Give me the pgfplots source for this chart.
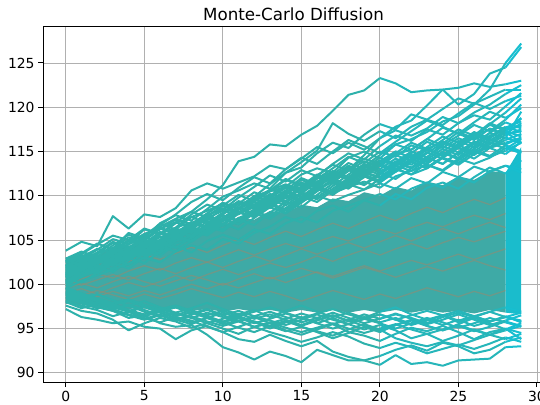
\documentclass[border=0pt]{standalone}
\usepackage{pgfplots}
\usepackage{pgfplotstable}
\pgfplotsset{compat=1.18}
\usepackage{fontspec}
\setmainfont{DejaVu Sans}
\definecolor{coreC}{RGB}{62,170,166}
\definecolor{cyanF}{RGB}{26,188,204}
\definecolor{lineA}{RGB}{46,177,171}
\definecolor{lineB}{RGB}{38,182,186}
\definecolor{lineC}{RGB}{23,190,207}
\definecolor{texC}{RGB}{150,138,112}
\definecolor{gridgray}{RGB}{176,176,176}

\pgfplotstableread{
name c0 c1 c2 c3 c4 c5 c6 c7 c8 c9 c10 c11 c12 c13 c14 c15 c16 c17 c18 c19 c20 c21 c22 c23 c24 c25 c26 c27 c28 c29
p1 101.2 102.0 102.8 103.5 104.9 105.6 106.5 107.4 108.2 109.6 111.2 113.9 114.4 115.8 115.6 116.9 117.9 119.6 121.4 121.9 123.3 122.7 121.7 121.9 122.0 122.2 122.7 122.3 122.6 123.0
p2 100.5 101.0 102.2 101.8 103.0 103.5 104.8 105.2 106.4 107.5 107.2 108.9 109.8 110.5 111.0 112.4 113.1 112.6 114.3 115.0 114.2 115.8 116.4 117.2 118.4 119.0 120.3 122.0 125.0 127.2
p3 99.8 100.9 101.5 102.8 102.2 103.6 104.1 105.4 106.0 105.6 107.3 108.1 107.6 109.2 110.4 111.0 112.3 113.5 112.9 114.6 116.5 117.8 118.5 120.2 122.0 120.3 121.5 123.8 124.5 126.8
p4 103.8 104.8 104.3 107.7 106.3 107.9 107.6 108.6 110.6 111.4 110.8 111.5 112.2 113.4 113.0 114.2 115.5 114.8 116.0 115.2 116.5 117.4 116.8 117.6 118.9 118.2 119.4 120.3 121.5 122.5
p5 102.6 103.5 104.6 104.0 105.8 105.2 106.9 107.8 107.2 108.5 109.9 110.6 111.4 110.8 112.6 113.2 114.8 116.0 115.4 116.9 118.1 117.5 119.2 118.6 119.8 121.0 120.4 121.2 122.0 122.0
p6 101.9 102.8 103.9 105.1 104.6 106.2 105.7 106.4 107.9 109.0 108.4 109.8 111.0 112.3 111.6 112.9 112.2 113.6 114.8 114.1 115.6 116.8 116.2 117.5 116.9 118.2 119.1 118.6 120.1 121.6
p7 100.9 101.6 102.4 103.9 103.3 104.2 105.8 105.1 106.6 107.2 108.6 108.0 109.5 110.7 110.2 111.8 111.1 112.4 113.7 113.0 112.4 113.8 115.0 114.3 115.9 117.2 116.5 118.1 119.4 121.0
p8 102.2 101.6 102.9 103.5 104.9 104.4 105.0 106.3 105.8 107.1 106.6 108.0 108.7 110.0 109.4 110.9 112.1 111.5 112.8 113.9 113.3 114.7 115.2 116.4 115.7 116.8 118.0 117.3 118.6 120.3
p9 101.0 102.1 101.5 102.6 103.2 104.5 104.0 105.3 106.1 105.5 106.8 108.2 107.6 108.9 110.1 109.6 110.8 110.2 111.6 112.7 112.1 113.4 112.8 114.1 115.3 114.6 115.9 117.1 116.5 119.5
p10 100.2 101.3 102.0 101.4 102.7 103.9 103.2 104.6 105.2 106.5 106.0 107.3 106.7 108.1 109.3 108.7 110.1 111.4 110.8 112.2 111.5 112.9 114.2 113.6 114.9 114.3 115.6 116.8 117.4 118.8
p11 102.9 103.7 103.1 104.4 105.6 104.9 106.3 107.0 106.4 107.8 108.5 109.3 108.7 110.0 111.2 110.5 111.9 113.1 114.4 113.7 115.0 114.4 115.7 115.1 116.3 117.5 116.8 118.0 117.4 118.0
p12 101.7 102.5 103.2 102.7 103.9 105.0 104.4 105.7 107.0 106.3 107.5 108.6 110.0 109.4 110.6 112.0 111.3 112.6 112.0 113.3 114.6 115.8 115.2 116.4 117.7 117.0 116.3 117.6 116.9 117.3
p13 100.6 100.2 101.3 102.4 101.8 103.1 104.3 103.7 104.9 106.2 107.4 106.8 108.0 107.4 108.6 109.9 109.3 110.6 111.8 111.2 112.4 113.7 113.1 114.3 113.6 114.9 116.1 115.4 116.0 116.5
p14 102.4 103.0 102.4 103.6 104.1 103.5 104.8 105.5 106.9 106.4 107.8 107.2 108.5 109.8 109.2 110.4 109.8 111.1 112.4 113.6 113.0 114.2 113.5 114.8 116.0 115.4 116.6 115.9 117.2 116.0
p15 100.3 101.5 102.7 102.1 103.4 104.6 105.9 105.3 106.7 108.0 109.2 108.5 109.9 111.3 112.6 113.8 115.1 118.2 117.0 116.2 117.3 116.5 117.8 118.6 118.0 119.3 120.5 119.8 120.7 121.3
p16 101.3 102.6 103.4 104.7 104.1 105.4 106.7 107.9 109.3 110.2 109.5 110.9 112.1 111.4 113.0 114.3 113.6 115.0 116.3 115.6 114.8 116.1 117.3 118.5 117.8 117.0 118.3 119.5 118.8 119.9
p17 102.0 103.2 102.6 104.0 104.9 105.5 106.8 106.2 107.6 108.3 109.1 108.5 109.9 110.6 111.3 110.7 112.0 112.7 112.1 113.4 112.8 113.5 114.6 114.0 114.7 115.4 114.8 115.5 116.3 117.0
p18 101.4 102.1 103.0 103.6 103.1 104.4 105.0 106.4 107.0 106.5 108.0 109.4 108.9 109.5 110.1 111.4 110.9 111.5 112.9 112.3 113.6 113.0 112.4 113.1 114.3 113.7 115.0 114.4 115.1 116.0
p19 100.0 100.8 101.7 102.3 103.5 104.0 103.5 104.9 105.5 106.8 106.2 107.5 108.2 107.7 109.0 109.6 110.8 110.3 111.0 111.6 110.9 112.2 112.8 113.5 112.9 114.2 113.6 114.3 115.4 114.8
p20 102.8 102.2 103.5 104.1 105.3 104.7 105.3 106.0 105.4 106.7 107.3 106.8 108.1 108.7 108.1 109.4 110.0 109.4 110.1 110.7 111.4 110.8 112.0 111.4 112.7 112.1 113.3 112.7 113.4 113.0
p21 99.5 100.4 101.0 101.7 102.3 103.0 102.5 103.7 104.4 103.9 105.1 104.6 105.8 106.5 107.6 107.0 108.3 108.9 108.2 109.5 110.2 109.6 110.8 111.5 110.9 112.1 111.5 112.8 113.4 112.6
p22 101.0 101.7 101.2 102.4 103.0 102.4 103.7 104.3 103.6 104.9 105.6 105.0 106.2 105.7 106.9 107.6 107.0 108.3 108.9 109.5 108.9 110.2 109.6 110.9 111.5 110.8 112.1 113.2 112.5 114.0
p23 98.5 98.0 97.4 97.0 96.2 96.5 95.6 95.2 95.4 94.3 92.9 92.3 91.5 92.4 91.9 91.2 92.6 92.0 91.4 91.4 90.9 92.0 91.0 91.2 90.8 91.4 91.5 91.6 92.9 93.0
p24 97.2 96.3 96.0 95.6 95.8 95.2 95.0 93.8 94.8 95.3 94.6 93.8 93.5 94.3 93.6 93.0 93.6 92.4 91.8 91.4 91.9 92.6 93.1 92.5 93.4 93.0 92.2 92.6 93.5 94.0
p25 97.6 97.0 96.7 96.0 94.8 95.6 96.2 95.8 95.1 95.6 95.0 94.4 95.2 95.6 94.8 94.3 94.9 95.5 94.6 94.2 93.6 94.4 95.1 94.7 95.3 94.6 93.8 94.6 95.0 93.8
p26 98.2 97.5 97.1 96.4 96.9 96.1 96.6 96.0 95.5 96.2 95.7 95.1 94.6 95.3 95.9 95.2 94.6 93.9 94.5 95.2 94.6 95.4 96.0 95.3 94.8 95.5 96.2 95.6 94.9 95.6
p27 98.8 98.1 97.3 97.8 97.0 96.4 97.0 96.5 97.1 96.4 95.8 96.4 95.8 95.0 95.7 96.3 95.6 96.2 95.5 94.9 95.4 94.8 93.9 94.4 93.6 94.2 94.9 94.3 95.0 94.5
p28 99.1 98.5 97.8 97.2 97.6 96.9 96.3 96.8 96.2 95.6 96.1 96.7 96.1 96.6 96.0 95.4 96.0 96.5 95.8 96.3 95.7 96.2 95.5 96.0 95.4 96.0 95.3 95.8 96.4 95.7
p29 99.5 98.7 98.2 97.6 97.0 97.5 97.0 97.4 96.7 97.2 96.5 95.9 96.3 95.6 96.1 96.7 96.2 95.5 96.0 96.6 96.1 96.6 96.2 95.6 96.3 96.8 96.3 96.9 97.4 96.9
p30 98.0 97.3 97.8 97.2 96.6 96.2 95.7 96.3 95.9 95.2 94.6 95.2 95.8 95.3 94.7 95.2 94.7 94.2 94.9 95.5 94.9 93.9 93.4 93.0 93.5 93.1 93.7 94.3 93.8 94.4
p31 99.3 98.8 98.3 97.7 98.1 97.5 97.0 96.4 96.8 96.2 95.5 95.9 95.2 94.6 94.1 93.5 94.0 94.6 94.1 93.3 92.8 93.4 92.9 92.2 92.7 93.2 92.7 93.3 94.0 93.5
p32 99.0 98.4 98.9 98.2 97.6 98.1 97.4 96.8 97.3 97.9 97.2 96.6 97.1 96.3 97.0 97.6 96.9 96.3 96.8 96.2 96.9 97.4 96.6 96.0 96.5 95.7 96.4 95.8 96.3 95.9
p33 102.5 103.1 104.0 103.6 104.5 105.3 104.8 105.9 106.8 107.5 108.3 107.9 109.0 110.2 109.7 110.8 111.6 112.5 112.0 113.1 114.0 113.4 114.5 115.3 116.1 115.6 116.8 117.5 117.0 118.2
p34 101.8 102.9 102.3 103.4 104.6 105.7 106.3 105.6 106.9 107.8 107.1 108.4 109.6 109.0 110.3 111.5 110.9 112.2 113.4 112.7 113.9 115.0 114.3 115.2 114.5 115.8 116.9 116.2 117.4 117.9
p35 100.8 101.9 103.0 102.5 103.8 103.2 104.6 105.8 106.5 105.9 107.2 108.5 107.8 109.1 108.5 109.7 110.9 110.2 111.4 112.6 112.0 113.3 114.5 113.8 115.0 116.2 115.5 116.7 117.8 117.2
p36 102.1 102.7 103.6 104.8 104.2 105.0 106.2 107.3 106.8 108.0 109.2 108.6 109.3 110.5 111.8 111.1 112.4 111.8 113.0 114.2 113.6 114.8 116.0 115.3 114.6 115.9 117.0 116.4 115.8 116.6
p37 101.5 102.3 101.8 103.1 104.3 103.7 105.0 106.1 105.5 106.7 107.9 109.1 110.4 109.7 110.9 110.3 111.5 112.8 112.1 113.3 112.6 113.9 113.2 114.4 115.6 114.9 116.1 115.5 116.6 115.9
p38 100.4 101.2 102.4 103.3 102.8 104.1 105.4 104.9 106.2 107.4 106.8 108.0 109.3 108.6 109.8 111.0 112.3 111.6 110.9 112.1 113.4 114.6 113.9 113.2 114.4 115.7 116.8 118.2 117.5 118.7
p39 102.9 103.4 104.5 105.5 105.0 106.3 105.7 107.0 108.2 107.6 108.9 110.1 109.4 110.6 111.9 111.2 110.6 111.8 113.0 112.3 113.5 112.8 114.0 115.2 114.5 115.7 115.0 116.2 117.3 116.7
p40 101.2 102.0 102.9 102.3 103.5 104.8 104.2 105.5 104.9 106.1 107.4 106.8 108.1 109.4 110.6 109.9 111.2 112.5 111.8 113.1 114.3 113.6 114.8 116.1 115.4 116.5 115.8 117.1 118.3 117.6
p41 100.1 101.0 101.8 102.9 104.0 103.4 104.7 104.1 105.3 106.6 107.8 107.1 108.3 109.6 108.9 110.2 109.6 110.8 112.0 111.3 112.6 111.9 113.1 114.3 113.6 114.9 114.2 115.4 114.7 116.1
p42 102.3 101.7 102.8 104.0 103.4 104.6 105.9 105.3 106.4 107.7 108.9 108.2 107.6 108.8 110.0 109.3 110.6 111.9 111.2 112.4 111.7 113.0 114.2 113.5 112.8 114.0 115.2 114.5 115.7 115.0
p43 101.6 102.4 103.3 102.7 103.9 105.1 106.4 105.8 107.0 106.3 107.5 108.7 108.0 109.2 110.5 109.8 111.0 110.4 111.6 112.9 113.5 112.7 113.8 113.1 114.3 115.4 114.6 115.8 116.9 117.5
p44 100.7 101.5 102.6 103.7 103.0 104.3 103.8 105.1 106.3 105.7 106.9 106.2 107.5 108.7 108.0 109.2 110.5 111.7 111.0 112.2 111.5 112.7 113.9 114.9 114.2 113.5 114.7 116.0 115.3 116.4
p45 102.6 103.2 102.7 103.8 105.0 104.4 105.6 106.9 107.6 106.9 108.1 109.3 108.6 109.8 111.0 110.3 111.6 112.0 113.2 112.5 113.8 115.0 114.3 115.5 116.7 116.0 117.2 116.5 117.7 118.4
p46 101.1 101.9 103.1 102.5 103.7 102.9 104.2 105.4 104.8 106.0 107.2 108.5 109.7 109.0 108.3 109.5 110.8 110.1 111.3 110.7 111.9 113.1 112.4 113.7 114.9 114.1 115.3 116.4 115.7 114.9
p47 98.4 97.9 97.3 97.8 97.1 96.6 97.2 96.7 96.2 96.8 96.3 95.8 96.4 96.9 96.3 95.7 96.2 96.8 96.2 95.6 96.1 96.7 96.1 95.5 96.0 96.6 96.0 95.4 95.9 96.5
p48 98.9 98.3 97.7 97.2 97.7 97.1 96.5 96.0 96.6 97.1 96.5 97.0 96.4 95.9 95.4 96.0 96.6 96.0 95.5 96.1 95.6 95.0 95.6 96.2 95.7 95.1 95.6 96.2 95.7 95.2
p49 99.2 98.6 98.1 97.5 97.0 96.4 96.9 97.4 96.8 96.3 95.7 96.2 95.6 96.1 96.7 96.2 95.6 95.0 95.5 96.1 96.6 96.0 95.4 95.9 96.5 97.0 96.4 95.8 96.3 96.8
p50 98.1 97.6 98.0 97.4 96.9 97.4 96.8 96.2 95.7 96.2 96.8 96.2 95.7 95.2 95.8 95.3 95.9 96.5 95.9 95.3 94.8 95.4 95.9 95.3 94.8 95.3 94.7 95.2 95.8 95.3
p51 99.6 99.0 98.4 97.9 98.3 97.7 97.2 97.6 97.0 96.5 97.0 96.4 96.9 97.4 96.8 96.2 96.7 97.2 96.6 96.1 96.6 96.0 96.5 97.0 96.5 95.9 96.4 96.9 96.3 95.8
p52 98.6 98.1 97.5 97.0 96.5 96.0 96.5 95.9 96.4 95.8 95.3 95.8 95.2 95.7 95.1 94.6 95.1 95.6 95.0 94.5 95.0 95.5 94.9 94.4 94.9 95.4 94.8 94.3 94.8 95.3
}\rawpaths
\pgfplotstabletranspose[colnames from=name]{\paths}{\rawpaths}

\pgfplotstableread{
name c0 c1 c2 c3 c4 c5 c6 c7 c8 c9 c10 c11 c12 c13 c14 c15 c16 c17 c18 c19 c20 c21 c22 c23 c24 c25 c26 c27 c28 c29
g1 100.0 100.6 101.2 100.7 101.5 102.1 101.6 102.4 103.0 102.5 103.2 103.9 103.3 104.0 104.6 104.1 104.8 105.4 104.9 105.6 106.2 105.7 106.4 107.0 106.5 107.2 107.8 107.3 108.0 108.5
g2 99.0 99.5 98.9 99.6 100.2 99.7 100.3 101.0 100.4 101.1 101.7 101.1 101.8 102.4 101.9 102.5 103.2 102.6 103.3 103.9 103.3 104.0 104.6 104.0 104.7 105.3 104.8 105.4 106.0 105.5
g3 101.0 101.7 102.3 101.8 102.6 103.3 102.8 103.5 104.2 103.6 104.4 105.1 104.5 105.3 106.0 105.4 106.2 106.9 106.3 107.1 107.8 107.2 108.0 108.7 108.1 108.9 109.6 109.0 109.8 110.5
g4 98.5 98.0 98.6 99.2 98.7 99.3 98.8 99.4 100.0 99.5 100.1 99.6 100.2 100.8 100.2 100.8 101.4 100.9 101.5 102.1 101.5 102.1 102.7 102.2 102.8 103.4 102.8 103.4 104.0 103.5
g5 100.5 99.9 100.5 101.1 100.5 101.2 101.8 101.2 101.9 102.5 101.9 102.6 103.2 102.6 103.3 104.0 103.4 104.1 104.7 104.1 104.8 105.5 104.9 105.6 106.3 105.7 106.4 107.0 106.4 107.1
g6 99.5 100.1 99.6 100.3 100.9 100.3 99.8 100.4 101.0 100.5 99.9 100.6 101.2 100.6 101.2 101.8 101.3 100.7 101.3 101.9 101.4 100.8 101.4 102.0 101.5 102.1 102.7 102.1 101.6 102.2
g7 98.2 98.7 99.3 98.8 98.3 98.9 98.4 98.9 99.5 99.0 98.5 99.1 98.6 99.2 98.7 98.1 98.7 99.3 98.8 98.3 98.9 98.4 99.0 99.6 99.1 98.6 99.2 98.7 99.3 98.8
}\rawtex
\pgfplotstabletranspose[colnames from=name]{\texpaths}{\rawtex}

\begin{document}
\begin{tikzpicture}
\begin{axis}[
  at={(43pt,21.7pt)}, anchor=south west,
  scale only axis, width=501pt, height=355.6pt,
  xmin=-1.45, xmax=30.45, ymin=88.93, ymax=129.1,
  xtick={0,5,...,30}, ytick={90,95,...,125},
  grid=major,
  major grid style={color=gridgray, line width=0.8pt},
  axis line style={line width=1pt, black},
  tick align=outside, major tick length=4.9pt,
  tick style={line width=1pt, black},
  tick pos=left,
  ticklabel style={font=\fontsize{13.9}{14}\selectfont},
  /pgf/number format/assume math mode=true,
  title={Monte-Carlo Diffusion},
  title style={font=\fontsize{16.7}{18}\selectfont, at={(0.5,1)}, anchor=base, yshift=0.5pt},
  no markers,
]
% dense core of the paths
\addplot[fill=coreC, draw=none] coordinates {
(0,102.8) (1,103.4) (2,103.3) (3,104.2) (4,104.1) (5,105.0) (6,104.9) (7,105.9) (8,105.8) (9,106.8)
(10,106.6) (11,107.6) (12,107.3) (13,108.3) (14,108.0) (15,109.0) (16,108.7) (17,109.7) (18,109.4) (19,110.4)
(20,110.0) (21,111.0) (22,110.6) (23,111.6) (24,111.2) (25,112.2) (26,111.8) (27,112.8) (28,112.6)
(28,96.8) (27,97.1) (26,96.7) (25,97.0) (24,96.8) (23,97.1) (22,96.8) (21,97.1) (20,96.8)
(19,97.1) (18,96.8) (17,97.1) (16,96.8) (15,97.1) (14,96.8) (13,97.1) (12,96.9) (11,97.2) (10,96.9)
(9,97.2) (8,97.0) (7,97.3) (6,97.1) (5,97.4) (4,97.2) (3,97.5) (2,97.4) (1,97.7) (0,97.8)
} -- cycle;
\addplot[fill=cyanF, draw=none] coordinates {
(28,112.6) (29,115.5) (29,96.6) (28,96.8)
} -- cycle;
% texture inside the core
\pgfplotsinvokeforeach{1,...,7}{
  \addplot[texC, opacity=0.55, line width=1.3pt, line join=round, restrict x to domain=0:28]
    table[x expr=\coordindex, y=g#1] {\texpaths};
}
% individual paths
\pgfplotsinvokeforeach{1,...,52}{
  \addplot[lineA, line width=2pt, line join=round, restrict x to domain=0:20]
    table[x expr=\coordindex, y=p#1] {\paths};
  \addplot[lineB, line width=2pt, line join=round, restrict x to domain=20:28]
    table[x expr=\coordindex, y=p#1] {\paths};
  \addplot[lineC, line width=2pt, line join=round, restrict x to domain=28:29]
    table[x expr=\coordindex, y=p#1] {\paths};
}
\end{axis}
\pgfresetboundingbox
\path[use as bounding box] (0,0) rectangle (540pt,404pt);
\end{tikzpicture}
\end{document}
